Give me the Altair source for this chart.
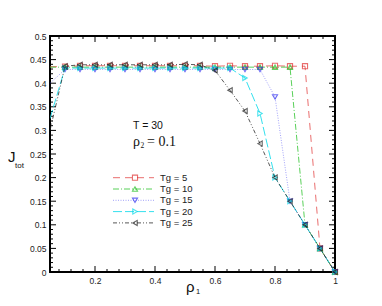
import altair as alt
import pandas as pd

# ---------------- data ----------------
rho1 = [0.05, 0.1, 0.15, 0.2, 0.25, 0.3, 0.35, 0.4, 0.45, 0.5,
        0.55, 0.6, 0.65, 0.7, 0.75, 0.8, 0.85, 0.9, 0.95, 1.0]
tg5 = [0.435, 0.435, 0.437, 0.437, 0.437, 0.437, 0.437, 0.437, 0.437, 0.437,
       0.437, 0.436, 0.437, 0.436, 0.436, 0.437, 0.436, 0.436, 0.05, 0.0]
tg10 = [0.434, 0.434, 0.434, 0.434, 0.434, 0.434, 0.434, 0.434, 0.434, 0.434,
        0.434, 0.434, 0.434, 0.434, 0.434, 0.434, 0.434, 0.10, 0.05, 0.0]
tg15 = [0.40, 0.429, 0.429, 0.429, 0.429, 0.429, 0.429, 0.429, 0.429, 0.429,
        0.429, 0.429, 0.429, 0.429, 0.429, 0.371, 0.15, 0.10, 0.05, 0.0]
tg20 = [0.325, 0.432, 0.432, 0.432, 0.432, 0.432, 0.432, 0.432, 0.432, 0.432,
        0.432, 0.432, 0.432, 0.411, 0.336, 0.20, 0.15, 0.10, 0.05, 0.0]
tg25 = [0.30, 0.436, 0.439, 0.439, 0.439, 0.439, 0.439, 0.439, 0.439, 0.440,
        0.439, 0.427, 0.385, 0.341, 0.272, 0.20, 0.15, 0.10, 0.05, 0.0]

names = ["Tg = 5", "Tg = 10", "Tg = 15", "Tg = 20", "Tg = 25"]
series = [tg5, tg10, tg15, tg20, tg25]

x_labels = [0.2, 0.4, 0.6, 0.8, 1.0]
x_minor = [0.08, 0.12, 0.16, 0.24, 0.28, 0.32, 0.36, 0.44, 0.48, 0.52, 0.56,
           0.64, 0.68, 0.72, 0.76, 0.84, 0.88, 0.92, 0.96]
y_labels = [0, 0.05, 0.1, 0.15, 0.2, 0.25, 0.3, 0.35, 0.4, 0.45, 0.5]
y_minor = [0.01, 0.02, 0.03, 0.04, 0.06, 0.07, 0.08, 0.09, 0.11, 0.12, 0.13,
           0.14, 0.16, 0.17, 0.18, 0.19, 0.21, 0.22, 0.23, 0.24, 0.26, 0.27,
           0.28, 0.29, 0.31, 0.32, 0.33, 0.34, 0.36, 0.37, 0.38, 0.39, 0.41,
           0.42, 0.43, 0.44, 0.46, 0.47, 0.48, 0.49]

# ---------------- style ----------------
W, H = 285, 236
colors = ["#e03030", "#22c022", "#3030f0", "#00d8e8", "#202020"]
line_op = [0.7, 0.75, 0.45, 0.8, 0.75]
shapes = ["square", "triangle-up", "triangle-down", "triangle-right", "triangle-left"]
dashes = [[7, 5], [6, 2, 1, 2], [1, 1.5], [9, 3], [4, 2, 1, 2, 1, 2]]
SANS = "Liberation Sans"
SERIF = "Liberation Serif"

xs = alt.Scale(domain=[0.05, 1.0], nice=False, zero=False)
ys = alt.Scale(domain=[0, 0.5], nice=False, zero=True)

x_axis = alt.Axis(values=x_labels, ticks=False, domain=False, grid=False,
                  labelFont=SANS, labelFontSize=8.5, labelColor="#222",
                  labelPadding=4, title=None, labelOverlap=False, labelFlush=False,
                  labelExpr="datum.value == 1 ? '1' : format(datum.value, '.1f')")
y_axis = alt.Axis(values=y_labels, ticks=False, domain=False, grid=False,
                  labelFont=SANS, labelFontSize=8.5, labelColor="#222",
                  labelPadding=4, title=None, format="~g",
                  labelOverlap=False, labelFlush=False)


def X(field):
    return alt.X(field, scale=xs, axis=x_axis)


def Y(field):
    return alt.Y(field, scale=ys, axis=y_axis)


layers = []

# inside ticks, all four sides
xmaj = pd.DataFrame({"v": x_labels})
xmin = pd.DataFrame({"v": x_minor})
ymaj = pd.DataFrame({"v": y_labels})
ymin = pd.DataFrame({"v": y_minor})
for df, L in ((xmaj, 6), (xmin, 3)):
    layers.append(alt.Chart(df).mark_rule(color="black", strokeWidth=1).encode(
        x=X("v:Q"), y=alt.value(H), y2=alt.value(H - L)))
    layers.append(alt.Chart(df).mark_rule(color="black", strokeWidth=1).encode(
        x=X("v:Q"), y=alt.value(0), y2=alt.value(L)))
for df, L in ((ymaj, 6), (ymin, 3)):
    layers.append(alt.Chart(df).mark_rule(color="black", strokeWidth=1).encode(
        y=Y("v:Q"), x=alt.value(0), x2=alt.value(L)))
    layers.append(alt.Chart(df).mark_rule(color="black", strokeWidth=1).encode(
        y=Y("v:Q"), x=alt.value(W - L), x2=alt.value(W)))

# series
for i, (name, vals) in enumerate(zip(names, series)):
    df = pd.DataFrame({"x": rho1, "y": vals})
    layers.append(alt.Chart(df).mark_line(
        color=colors[i], strokeWidth=1, strokeDash=dashes[i], opacity=line_op[i], clip=True
    ).encode(x=X("x:Q"), y=Y("y:Q")))
    layers.append(alt.Chart(df).transform_filter("datum.x >= 0.09").mark_point(
        shape=shapes[i], filled=False, color=colors[i], size=26, strokeWidth=1.1
    ).encode(x=X("x:Q"), y=Y("y:Q")))

# legend (manual, inside plot)
leg_y = [141.7, 153.0, 164.3, 175.6, 186.9]
for i, name in enumerate(names):
    ldf = pd.DataFrame({"label": [name]})
    layers.append(alt.Chart(ldf).mark_rule(
        color=colors[i], strokeWidth=1, strokeDash=dashes[i], opacity=line_op[i]
    ).encode(x=alt.value(63), x2=alt.value(104), y=alt.value(leg_y[i])))
    layers.append(alt.Chart(ldf).mark_point(
        shape=shapes[i], filled=False, color=colors[i], size=26, strokeWidth=1.1
    ).encode(x=alt.value(85), y=alt.value(leg_y[i])))
    layers.append(alt.Chart(ldf).mark_text(
        align="left", baseline="middle", font=SANS, fontSize=9.5, color="#222"
    ).encode(x=alt.value(110), y=alt.value(leg_y[i]), text="label:N"))

# annotations
def txt(s, x, y, size, font, baseline="alphabetic"):
    return alt.Chart(pd.DataFrame({"t": [s]})).mark_text(
        align="left", baseline=baseline, font=font, fontSize=size, color="#111"
    ).encode(x=alt.value(x), y=alt.value(y), text="t:N")

layers.append(txt("T = 30", 83, 93, 10.5, SANS))
layers.append(txt("\u03c1", 83, 110, 14, SERIF))
layers.append(txt("2", 90.5, 112, 7.5, SERIF))
layers.append(txt("= 0.1", 97, 110, 14, SERIF))
# axis titles
layers.append(txt("\u03c1", 136, 256, 15, SANS))
layers.append(txt("1", 146, 258, 7.5, SANS))
layers.append(txt("J", -42, 126, 15, SANS))
layers.append(txt("tot", -35, 132, 8, SANS))

chart = alt.layer(*layers).properties(
    width=W, height=H,
    autosize=alt.AutoSizeParams(type="none"),
    padding={"left": 42, "top": 28, "right": 30, "bottom": 30},
).configure_view(stroke="black", strokeWidth=2)

chart.save("out.html", embed_options={"renderer": "svg", "actions": False})
